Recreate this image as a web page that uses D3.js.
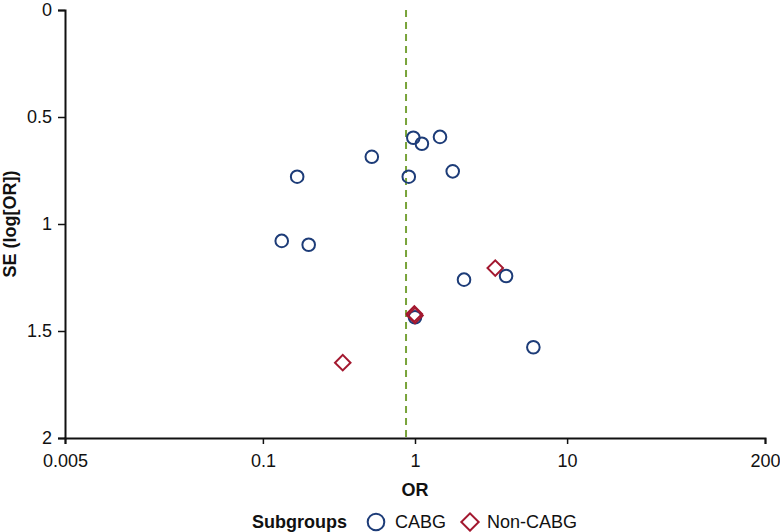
<!DOCTYPE html>
<html><head><meta charset="utf-8">
<script src="https://cdn.jsdelivr.net/npm/d3@7"></script>
<style>body{margin:0;background:#fff}svg{display:block;font-family:"Liberation Sans",Arial,sans-serif}</style>
</head><body><svg id="c" width="780" height="532"></svg>
<script>
const cabgOR = [0.975, 1.11, 1.46, 0.52, 0.168, 0.91, 1.77, 0.133, 0.20, 2.10, 3.97, 1.0, 6.0];
const cabgSE = [0.597, 0.625, 0.593, 0.686, 0.779, 0.779, 0.754, 1.079, 1.097, 1.260, 1.243, 1.436, 1.576];
const nonOR = [3.37, 0.99, 1.0, 0.335];
const nonSE = [1.206, 1.420, 1.428, 1.648];
const pooledOR = 0.873;
const xTicks = [0.005, 0.1, 1, 10, 200];
const yTicks = [0, 0.5, 1, 1.5, 2];

const FS = 18;
const svg = d3.select("#c");
const L = 65, R = 765, T = 10, B = 438;
const x = d3.scaleLog().domain([0.005, 200]).range([L, R]);
const y = d3.scaleLinear().domain([0, 2]).range([T, B]);

const xa = svg.append("g").attr("transform", `translate(0,${B})`)
  .call(d3.axisBottom(x).tickValues(xTicks).tickFormat(d => String(d)).tickSize(6).tickPadding(10));
const ya = svg.append("g").attr("transform", `translate(${L},0)`)
  .call(d3.axisLeft(y).tickValues(yTicks).tickFormat(d => String(d)).tickSize(7).tickPadding(6));
[xa, ya].forEach(a => {
  a.selectAll("path").attr("stroke", "#111").attr("stroke-width", 2);
  a.selectAll("line").attr("stroke", "#111").attr("stroke-width", 1.5);
  a.selectAll("text").attr("font-size", FS).attr("fill", "#111").attr("font-family", "Liberation Sans, Arial, sans-serif");
});

svg.append("line").attr("x1", x(pooledOR)).attr("x2", x(pooledOR)).attr("y1", T).attr("y2", B)
  .attr("stroke", "#78a33a").attr("stroke-width", 2).attr("stroke-dasharray", "7,5");

const cabg = cabgOR.map((v, i) => ({or: v, se: cabgSE[i]}));
const non = nonOR.map((v, i) => ({or: v, se: nonSE[i]}));

svg.append("g").selectAll("circle").data(cabg).join("circle")
  .attr("cx", d => x(d.or)).attr("cy", d => y(d.se)).attr("r", 6.3)
  .attr("fill", "none").attr("stroke", "#1d3c78").attr("stroke-width", 2);

const dia = d3.symbol().type(d3.symbolSquare).size(120);
svg.append("g").selectAll("path").data(non).join("path")
  .attr("d", dia)
  .attr("transform", d => `translate(${x(d.or)},${y(d.se)}) rotate(45)`)
  .attr("fill", "none").attr("stroke", "#a3182f").attr("stroke-width", 2);

svg.append("text").attr("x", x(1)).attr("y", 496).attr("text-anchor", "middle")
  .attr("font-weight", "bold").attr("font-size", FS).attr("fill", "#111").text("OR");
svg.append("text").attr("transform", `translate(16,${(T + B) / 2}) rotate(-90)`).attr("text-anchor", "middle")
  .attr("font-weight", "bold").attr("font-size", FS).attr("fill", "#111").text("SE (log[OR])");

const lg = svg.append("g");
lg.append("text").attr("x", 252).attr("y", 528).attr("font-weight", "bold").attr("font-size", FS).attr("fill", "#111").text("Subgroups");
lg.append("circle").attr("cx", 376).attr("cy", 522).attr("r", 8.3).attr("fill", "none").attr("stroke", "#1d3c78").attr("stroke-width", 2);
lg.append("text").attr("x", 395).attr("y", 528).attr("font-size", FS).attr("fill", "#111").text("CABG");
lg.append("path").attr("d", d3.symbol().type(d3.symbolSquare).size(150)).attr("transform", "translate(470,522) rotate(45)")
  .attr("fill", "none").attr("stroke", "#a3182f").attr("stroke-width", 2);
lg.append("text").attr("x", 487).attr("y", 528).attr("font-size", FS).attr("fill", "#111").text("Non-CABG");
</script></body></html>
